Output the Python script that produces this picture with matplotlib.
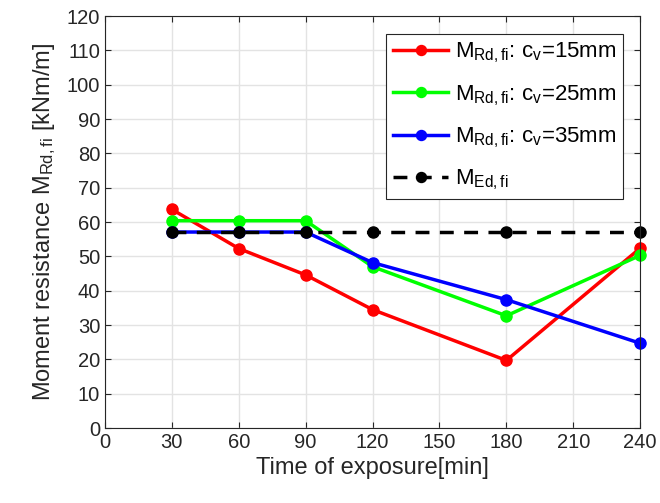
import matplotlib
matplotlib.use('Agg')
import matplotlib.pyplot as plt

plt.rcParams['font.family'] = ['Liberation Sans', 'DejaVu Sans']
plt.rcParams['mathtext.fontset'] = 'custom'
plt.rcParams['mathtext.rm'] = 'Liberation Sans'
plt.rcParams['mathtext.it'] = 'Liberation Sans'

time = [30, 60, 90, 120, 180, 240]
m_rd_15 = [63.7, 52.3, 44.6, 34.5, 19.7, 52.4]
m_rd_25 = [60.4, 60.4, 60.4, 47.0, 32.7, 50.3]
m_rd_35 = [57.1, 57.1, 57.1, 48.2, 37.4, 24.7]
m_ed = [57.0, 57.0, 57.0, 57.0, 57.0, 57.0]

fig = plt.figure(figsize=(6.6, 5.03), dpi=100)
ax = fig.add_axes([0.159, 0.149, 0.811, 0.819])

ax.plot(time, m_rd_15, '-o', color=(1, 0, 0), lw=2.5, ms=8, clip_on=False,
        label=r'$\mathregular{M_{Rd,fi}}$: $\mathregular{c_v}$=15mm')
ax.plot(time, m_rd_25, '-o', color=(0, 1, 0), lw=2.5, ms=8, clip_on=False,
        label=r'$\mathregular{M_{Rd,fi}}$: $\mathregular{c_v}$=25mm')
ax.plot(time, m_rd_35, '-o', color=(0, 0, 1), lw=2.5, ms=8, clip_on=False,
        label=r'$\mathregular{M_{Rd,fi}}$: $\mathregular{c_v}$=35mm')
ax.plot(time, m_ed, '--o', color='k', lw=2.5, ms=8, dashes=(4, 3), clip_on=False,
        label=r'$\mathregular{M_{Ed,fi}}$')

ax.set_xlim(0, 240)
ax.set_ylim(0, 120)
ax.set_xticks(range(0, 241, 30))
ax.set_yticks(range(0, 121, 10))
ax.grid(True, color='#e3e3e3', lw=1)
ax.set_axisbelow(True)
ax.tick_params(direction='in', top=True, right=True, labelsize=14.5,
               colors='#262626', length=4)
for s in ax.spines.values():
    s.set_color('#262626')
    s.set_linewidth(0.8)

ax.set_xlabel('Time of exposure[min]', fontsize=17, color='#262626')
ax.set_ylabel(r'Moment resistance $\mathregular{M_{Rd,fi}}$ [kNm/m]',
              fontsize=17, color='#262626', labelpad=6)

leg = ax.legend(loc='upper right', bbox_to_anchor=(0.968, 0.956), fontsize=16,
                fancybox=False, edgecolor='#262626', framealpha=1,
                handlelength=2.5, borderpad=0.3, labelspacing=0.8,
                handletextpad=0.3, borderaxespad=0, markerscale=0.9)
leg.get_frame().set_linewidth(0.8)

fig.savefig('out.png', dpi=100)
